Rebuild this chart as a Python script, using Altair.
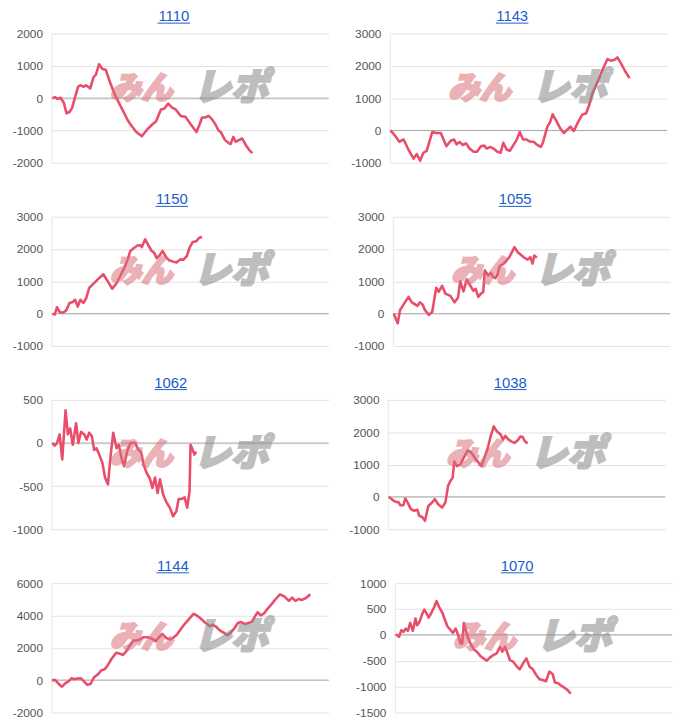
import altair as alt
import pandas as pd

LINE_COLOR = "#e94d6a"
TITLE_COLOR = "#1a5ccc"
X_MAX = 8430

titles = ["1110", "1143", "1150", "1055", "1062", "1038", "1144", "1070"]

s1110 = [(30,0),(110,30),(180,-20),(280,10),(380,-150),(460,-470),(550,-430),(630,-300),(710,0),(810,350),
         (880,400),(980,350),(1050,400),(1180,300),(1280,650),(1350,720),(1450,1050),(1550,900),(1650,880),(1780,500),
         (1930,100),(2130,-300),(2330,-700),(2430,-850),(2580,-1050),(2750,-1180),(2930,-950),(3080,-800),(3180,-720),(3330,-350),
         (3430,-330),(3550,-170),(3680,-300),(3780,-350),(3930,-550),(4080,-580),(4230,-800),(4410,-1050),(4510,-800),(4580,-600),
         (4680,-600),(4780,-550),(4880,-650),(4980,-800),(5080,-1000),(5150,-1050),(5280,-1300),(5400,-1400),(5450,-1420),(5530,-1200),
         (5600,-1350),(5700,-1300),(5800,-1250),(5910,-1450),(6010,-1600),(6110,-1700)]

s1143 = [(20,0),(150,-150),(290,-350),(420,-280),(550,-560),(720,-870),(820,-730),(920,-940),(1020,-690),(1120,-630),
         (1290,-50),(1420,-80),(1550,-80),(1720,-490),(1850,-320),(1950,-280),(2030,-430),(2120,-360),(2220,-450),(2320,-400),
         (2420,-560),(2550,-660),(2650,-660),(2770,-490),(2870,-470),(2950,-560),(3050,-510),(3150,-560),(3270,-660),(3370,-690),
         (3450,-380),(3550,-590),(3650,-630),(3770,-430),(3850,-300),(3950,-50),(4050,-280),(4150,-280),(4270,-350),(4370,-350),
         (4470,-440),(4590,-510),(4650,-390),(4790,120),(4870,250),(4950,500),(5050,320),(5190,50),(5290,-80),(5390,20),
         (5490,120),(5590,-20),(5720,250),(5850,490),(5970,530),(6070,810),(6150,1120),(6270,1400),(6370,1630),(6490,1930),
         (6620,2210),(6720,2160),(6820,2180),(6920,2260),(7020,2090),(7150,1840),(7290,1620)]

s1150 = [(30,0),(100,-30),(170,200),(250,50),(350,30),(450,100),(550,330),(650,360),(720,430),(800,220),
         (880,430),(970,330),(1050,460),(1150,800),(1250,900),(1350,1000),(1450,1100),(1580,1220),(1700,1020),(1850,770),
         (1980,940),(2100,1180),(2220,1430),(2320,1680),(2400,1940),(2520,2040),(2620,2110),(2700,2120),(2750,2060),(2850,2300),
         (2950,2110),(3050,1940),(3120,1890),(3200,1720),(3300,1820),(3380,1940),(3480,1760),(3580,1650),(3700,1610),(3800,1580),
         (3920,1680),(4020,1670),(4120,1790),(4200,2040),(4300,2220),(4400,2240),(4500,2350),(4580,2370)]

s1055 = [(30,0),(150,-300),(220,110),(350,320),(480,520),(580,350),(750,240),(820,350),(900,290),(980,110),
         (1100,-40),(1200,60),(1320,800),(1400,680),(1500,860),(1600,620),(1750,550),(1880,350),(1980,490),(2050,1000),
         (2150,690),(2250,1060),(2350,880),(2450,710),(2520,770),(2600,520),(2680,620),(2750,670),(2800,1340),(2900,1180),
         (2980,1260),(3050,1130),(3120,1100),(3180,1200),(3250,1470),(3350,1530),(3450,1630),(3550,1760),(3650,1960),(3700,2060),
         (3800,1900),(3920,1800),(4000,1730),(4100,1670),(4180,1750),(4250,1550),(4300,1800),(4380,1730)]

s1062 = [(30,0),(100,-30),(170,0),(250,100),(330,-190),(430,380),(500,100),(570,170),(650,-20),(750,230),
         (820,0),(900,130),(1000,100),(1070,40),(1150,120),(1230,80),(1300,-80),(1370,-60),(1450,-130),(1550,-230),
         (1630,-400),(1720,-480),(1800,-150),(1880,120),(1980,-60),(2050,-20),(2130,-170),(2210,-270),(2300,-100),(2400,0),
         (2550,0),(2630,-70),(2730,-110),(2800,-250),(2900,-350),(3000,-420),(3070,-520),(3150,-400),(3230,-580),(3300,-420),
         (3400,-600),(3500,-690),(3600,-750),(3700,-850),(3800,-790),(3870,-650),(3950,-650),(4050,-630),(4130,-750),(4200,-560),
         (4230,-20),(4300,-85),(4350,-135),(4400,-100)]

s1038 = [(30,0),(150,-100),(230,-150),(330,-170),(380,-260),(470,-260),(530,-50),(600,-170),(700,-380),(800,-430),
         (900,-400),(950,-580),(1050,-630),(1130,-740),(1230,-280),(1330,-190),(1430,-70),(1530,-230),(1650,-330),(1750,-170),
         (1830,340),(1900,490),(1970,590),(2020,1100),(2100,950),(2200,1000),(2300,1200),(2430,1440),(2530,1380),(2650,1200),
         (2750,1070),(2850,950),(2950,1260),(3030,1480),(3130,1890),(3220,2180),(3320,2020),(3430,1930),(3500,1770),(3570,1890),
         (3670,1770),(3750,1720),(3850,1670),(3950,1750),(4030,1870),(4100,1850),(4170,1720),(4250,1650)]

s1144 = [(20,0),(120,0),(250,-290),(320,-410),(420,-200),(520,-80),(620,120),(690,60),(790,100),(890,120),
         (990,-80),(1090,-290),(1190,-240),(1290,160),(1420,370),(1520,610),(1620,670),(1720,940),(1820,1290),(1970,1690),
         (2070,1650),(2170,1550),(2270,1760),(2370,2100),(2490,2450),(2590,2450),(2690,2510),(2790,2650),(2920,2650),(3050,2570),
         (3170,2410),(3270,2650),(3370,2860),(3490,2610),(3620,2510),(3720,2650),(3820,2820),(3920,3120),(4050,3470),(4170,3740),
         (4320,4100),(4420,4000),(4550,3800),(4690,3530),(4820,3330),(4890,3430),(4990,3330),(5120,3080),(5250,2920),(5350,2780),
         (5470,2980),(5570,3220),(5670,3530),(5770,3590),(5890,3470),(5990,3530),(6090,3590),(6170,3880),(6270,4200),(6370,4000),
         (6470,4140),(6570,4410),(6690,4690),(6820,5020),(6950,5310),(7090,5160),(7220,4900),(7320,5100),(7420,4900),(7520,5020),
         (7620,4960),(7720,5060),(7790,5160),(7870,5310)]

s1070 = [(30,13),(130,-38),(200,90),(270,58),(330,122),(400,77),(470,231),(550,77),(630,314),(680,186),
         (750,250),(830,397),(900,487),(970,410),(1030,333),(1100,410),(1200,538),(1270,654),(1350,538),(1450,423),
         (1530,282),(1600,167),(1700,90),(1770,38),(1850,122),(1930,-6),(2000,-167),(2050,-167),(2100,231),(2200,-6),
         (2300,-167),(2400,-282),(2500,-327),(2600,-410),(2700,-455),(2800,-500),(2900,-436),(3000,-391),(3100,-359),(3200,-231),
         (3270,-327),(3350,-231),(3430,-359),(3500,-487),(3600,-519),(3700,-603),(3800,-667),(3900,-551),(4000,-455),(4100,-615),
         (4200,-667),(4300,-776),(4400,-859),(4500,-872),(4600,-897),(4700,-712),(4800,-756),(4870,-923),(4970,-936),(5070,-987),
         (5170,-1026),(5250,-1064),(5320,-1115),(5350,-1141)]

series = [s1110, s1143, s1150, s1055, s1062, s1038, s1144, s1070]

y_domains = [[-2000, 2000], [-1000, 3000], [-1000, 3000], [-1000, 3000],
             [-1000, 500], [-1000, 3000], [-2000, 6000], [-1500, 1000]]
y_ticks = [[-2000, -1000, 0, 1000, 2000], [-1000, 0, 1000, 2000, 3000],
           [-1000, 0, 1000, 2000, 3000], [-1000, 0, 1000, 2000, 3000],
           [-1000, -500, 0, 500], [-1000, 0, 1000, 2000, 3000],
           [-2000, 0, 2000, 4000, 6000], [-1500, -1000, -500, 0, 500, 1000]]

axis_extent = [44, 51, 40, 54, 40, 49, 40, 56]
title_dx = [124, 124, 122, 124, 121, 124, 123, 124]

PW, PH = 281, 131


def panel(name, pts, ydom, yticks, ext, tdx):
    df = pd.DataFrame(pts, columns=["game", "diff"])
    xsc = alt.Scale(domain=[0, X_MAX], nice=False, zero=False)
    ysc = alt.Scale(domain=ydom, nice=False, zero=False)
    yaxis = alt.Axis(values=yticks, title=None, grid=True, gridColor="#e3e3e3", gridWidth=1,
                     ticks=False, tickSize=0, domain=True, domainColor="#e6e6e6",
                     labelPadding=9, labelFont="Liberation Sans", labelFontSize=12,
                     labelColor="#555555", labelExpr="'' + datum.value", minExtent=ext)
    zero = alt.Chart(pd.DataFrame({"base": [0]})).mark_rule(color="#a9a9a9", strokeWidth=1).encode(
        y=alt.Y("base:Q", scale=ysc, axis=yaxis))
    line = alt.Chart(df).mark_line(color=LINE_COLOR, strokeWidth=2.6, strokeJoin="round").encode(
        x=alt.X("game:Q", scale=xsc, axis=None),
        y=alt.Y("diff:Q", scale=ysc, axis=yaxis))
    wm1 = alt.Chart(pd.DataFrame({"w": ["みん"]})).mark_text(
        font="Noto Sans CJK JP", fontSize=32, fontWeight=900, fontStyle="italic",
        color="#d9737e", stroke="#d9737e", strokeWidth=2.2, opacity=0.55,
        align="center", baseline="middle").encode(
        x=alt.value(91), y=alt.value(56), text="w:N")
    wm2 = alt.Chart(pd.DataFrame({"w": ["レポ"]})).mark_text(
        font="Noto Sans CJK JP", fontSize=38, fontWeight=900, fontStyle="italic",
        color="#898989", stroke="#898989", strokeWidth=2.2, opacity=0.55,
        align="center", baseline="middle").encode(
        x=alt.value(182), y=alt.value(56), text="w:N")
    tdf = pd.DataFrame({"t": [name]})
    title = alt.Chart(tdf).mark_text(font="Liberation Sans", fontSize=15, color=TITLE_COLOR,
                                     align="center", baseline="alphabetic").encode(
        x=alt.value(tdx), y=alt.value(-12.5), text="t:N")
    underline = alt.Chart(tdf).mark_rule(color=TITLE_COLOR, strokeWidth=1).encode(
        x=alt.value(tdx - 16.5), x2=alt.value(tdx + 16.5), y=alt.value(-10.5))
    return alt.layer(zero, line, wm1, wm2, title, underline).properties(width=PW, height=PH)


panels = [panel(titles[i], series[i], y_domains[i], y_ticks[i], axis_extent[i], title_dx[i])
          for i in range(8)]
rows = [alt.hconcat(panels[i], panels[i + 1], spacing=10) for i in range(0, 8, 2)]
chart = alt.vconcat(*rows, spacing=23.7).properties(
    padding={"left": 0, "top": -4, "right": 0, "bottom": 0},
    background="white",
).configure_view(stroke=None)

chart.save("out.html", embed_options={"renderer": "svg", "actions": False})
